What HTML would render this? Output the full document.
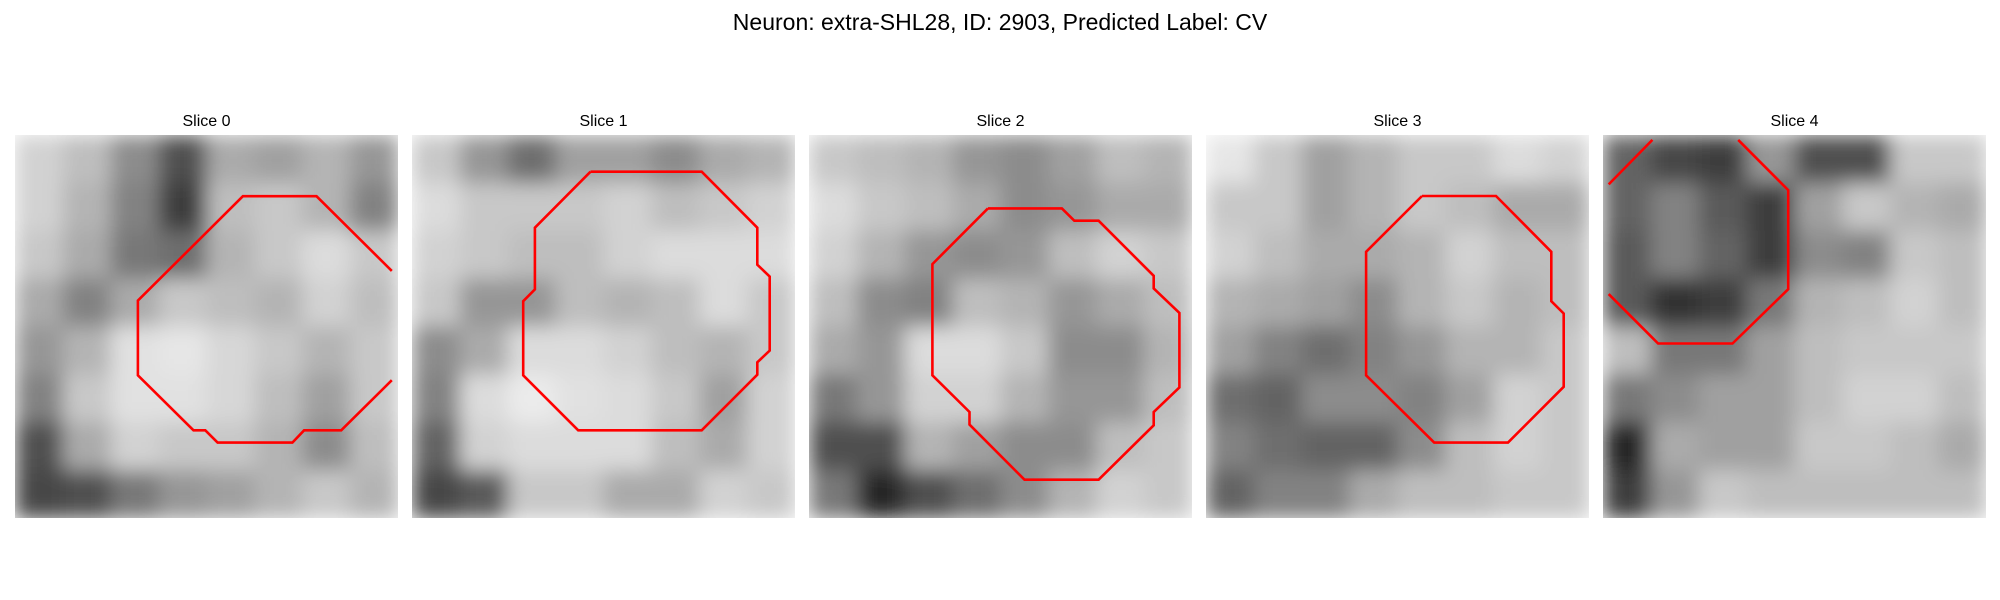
<!DOCTYPE html>
<html><head><meta charset="utf-8"><style>
html,body{margin:0;padding:0;background:#fff;width:2000px;height:600px;overflow:hidden}
svg{display:block}
text{font-family:"Liberation Sans","DejaVu Sans",sans-serif;fill:#000}
</style></head><body>
<svg id="fig" width="2000" height="600" viewBox="0 0 2000 600">
<defs>
<filter id="blur" x="0" y="0" width="100%" height="100%"><feGaussianBlur stdDeviation="10" edgeMode="duplicate"/></filter>
</defs>
<text x="1000" y="30" text-anchor="middle" font-size="23">Neuron: extra-SHL28, ID: 2903, Predicted Label: CV</text>
</svg>
<script>
const sliceTitles = ["Slice 0","Slice 1","Slice 2","Slice 3","Slice 4"];
const img0 = [[210,190,140,80,170,160,180,150],[210,180,130,60,190,200,180,130],[200,170,120,110,180,200,220,200],[170,130,170,200,190,180,210,190],[150,180,225,230,215,200,180,200],[130,200,225,225,215,190,160,200],[80,170,210,200,200,180,140,190],[70,80,120,150,160,180,200,180]];
const img1 = [[200,150,110,160,160,140,170,180],[220,200,200,200,210,190,200,210],[210,200,190,190,210,220,220,220],[200,150,150,190,180,190,220,200],[140,170,220,220,210,190,180,200],[130,220,235,225,220,200,160,210],[100,210,220,220,220,190,170,210],[70,90,200,200,170,170,210,200]];
const img2 = [[200,190,180,150,140,160,190,180],[220,200,190,170,140,150,170,170],[210,180,150,140,150,190,210,200],[190,140,130,190,180,150,170,190],[170,150,220,220,200,140,140,180],[120,150,210,210,180,150,150,190],[80,80,180,160,140,140,190,200],[120,40,80,110,140,180,210,200]];
const img3 = [[230,200,160,180,200,200,220,210],[200,200,160,180,200,190,170,170],[210,190,170,170,180,210,190,190],[180,170,160,140,180,200,180,190],[160,130,110,130,150,180,180,200],[110,100,140,140,130,160,210,200],[130,110,100,100,140,190,210,200],[100,130,130,170,190,190,200,200]];
const img4 = [[100,70,60,150,80,80,200,200],[100,130,90,60,160,200,180,170],[90,130,100,60,140,130,200,190],[90,50,60,120,180,190,210,190],[190,120,120,160,190,200,200,200],[120,140,160,160,190,210,210,190],[40,170,160,160,200,200,190,170],[60,150,200,190,190,190,190,190]];
// contours in image units (0..31 pixel grid)
const contour0 = [[[30.5,11],[24.4,4.95],[18.45,4.95],[9.95,13.4],[9.95,19.45],[14.45,23.9],[15.4,23.9],[16.4,24.9],[22.45,24.9],[23.4,23.9],[26.4,23.9],[30.5,19.85]]];
const contour1 = [[[14.45,2.97],[23.45,2.97],[27.95,7.5],[27.95,10.5],[28.95,11.45],[28.95,17.45],[27.95,18.4],[27.95,19.4],[23.45,23.9],[13.45,23.9],[9.0,19.45],[9.0,13.45],[9.95,12.5],[9.95,7.5],[14.45,2.97]]];
const contour2 = [[[14.48,5.94],[20.47,5.94],[21.47,6.94],[23.44,6.94],[27.9,11.4],[27.9,12.42],[29.98,14.4],[29.98,20.44],[27.9,22.42],[27.9,23.5],[23.44,27.9],[17.44,27.9],[12.99,23.44],[12.99,22.42],[9.99,19.45],[9.99,10.45],[14.48,5.94]]];
const contour3 = [[[17.48,4.94],[23.47,4.94],[27.95,9.45],[27.95,13.45],[28.95,14.45],[28.95,20.38],[24.44,24.9],[18.47,24.9],[12.96,19.45],[12.96,9.45],[17.48,4.94]]];
const contour4 = [[[0.46,4],[4,0.4]],[[10.94,0.4],[14.99,4.46],[14.99,12.48],[10.48,16.88],[4.46,16.88],[0.46,12.88]]];
const images = [img0,img1,img2,img3,img4];
const contours = [contour0,contour1,contour2,contour3,contour4];
const panelX = [15,412,809,1206,1603];
const panelY = 135, panelS = 383, N = 31;
const NS = "http://www.w3.org/2000/svg";
const svg = document.getElementById('fig');
images.forEach((img,p)=>{
  const g = document.createElementNS(NS,'g');
  
  
  const t = document.createElementNS(NS,'text');
  t.setAttribute('x', panelX[p]+panelS/2); t.setAttribute('y', 126);
  t.setAttribute('text-anchor','middle'); t.setAttribute('font-size','16');
  t.textContent = sliceTitles[p];
  
  
  g.appendChild(t);
  const inner = document.createElementNS(NS,'svg');
  inner.setAttribute('x',panelX[p]); inner.setAttribute('y',panelY);
  inner.setAttribute('width',panelS); inner.setAttribute('height',panelS);
  
  
  const ig = document.createElementNS(NS,'g');
  ig.setAttribute('filter','url(#blur)');
  const n = img.length, c = panelS/n;
  img.forEach((row,r)=>row.forEach((v,k)=>{
    const rc = document.createElementNS(NS,'rect');
    rc.setAttribute('x',k*c); rc.setAttribute('y',r*c);
    rc.setAttribute('width',c+1); rc.setAttribute('height',c+1);
    rc.setAttribute('fill',`rgb(${v},${v},${v})`);
    
    
    ig.appendChild(rc);
  }));
  inner.appendChild(ig);
  const sc = panelS/N;
  contours[p].forEach(seg=>{
    const pl = document.createElementNS(NS,'polyline');
    pl.setAttribute('points', seg.map(q=>(q[0]*sc).toFixed(1)+','+(q[1]*sc).toFixed(1)).join(' '));
    pl.setAttribute('fill','none'); pl.setAttribute('stroke','#ff0000');
    pl.setAttribute('stroke-width','2.6'); pl.setAttribute('stroke-linejoin','miter');
    
    
    inner.appendChild(pl);
  });
  g.appendChild(inner);
  svg.appendChild(g);
});
</script>
</body></html>
